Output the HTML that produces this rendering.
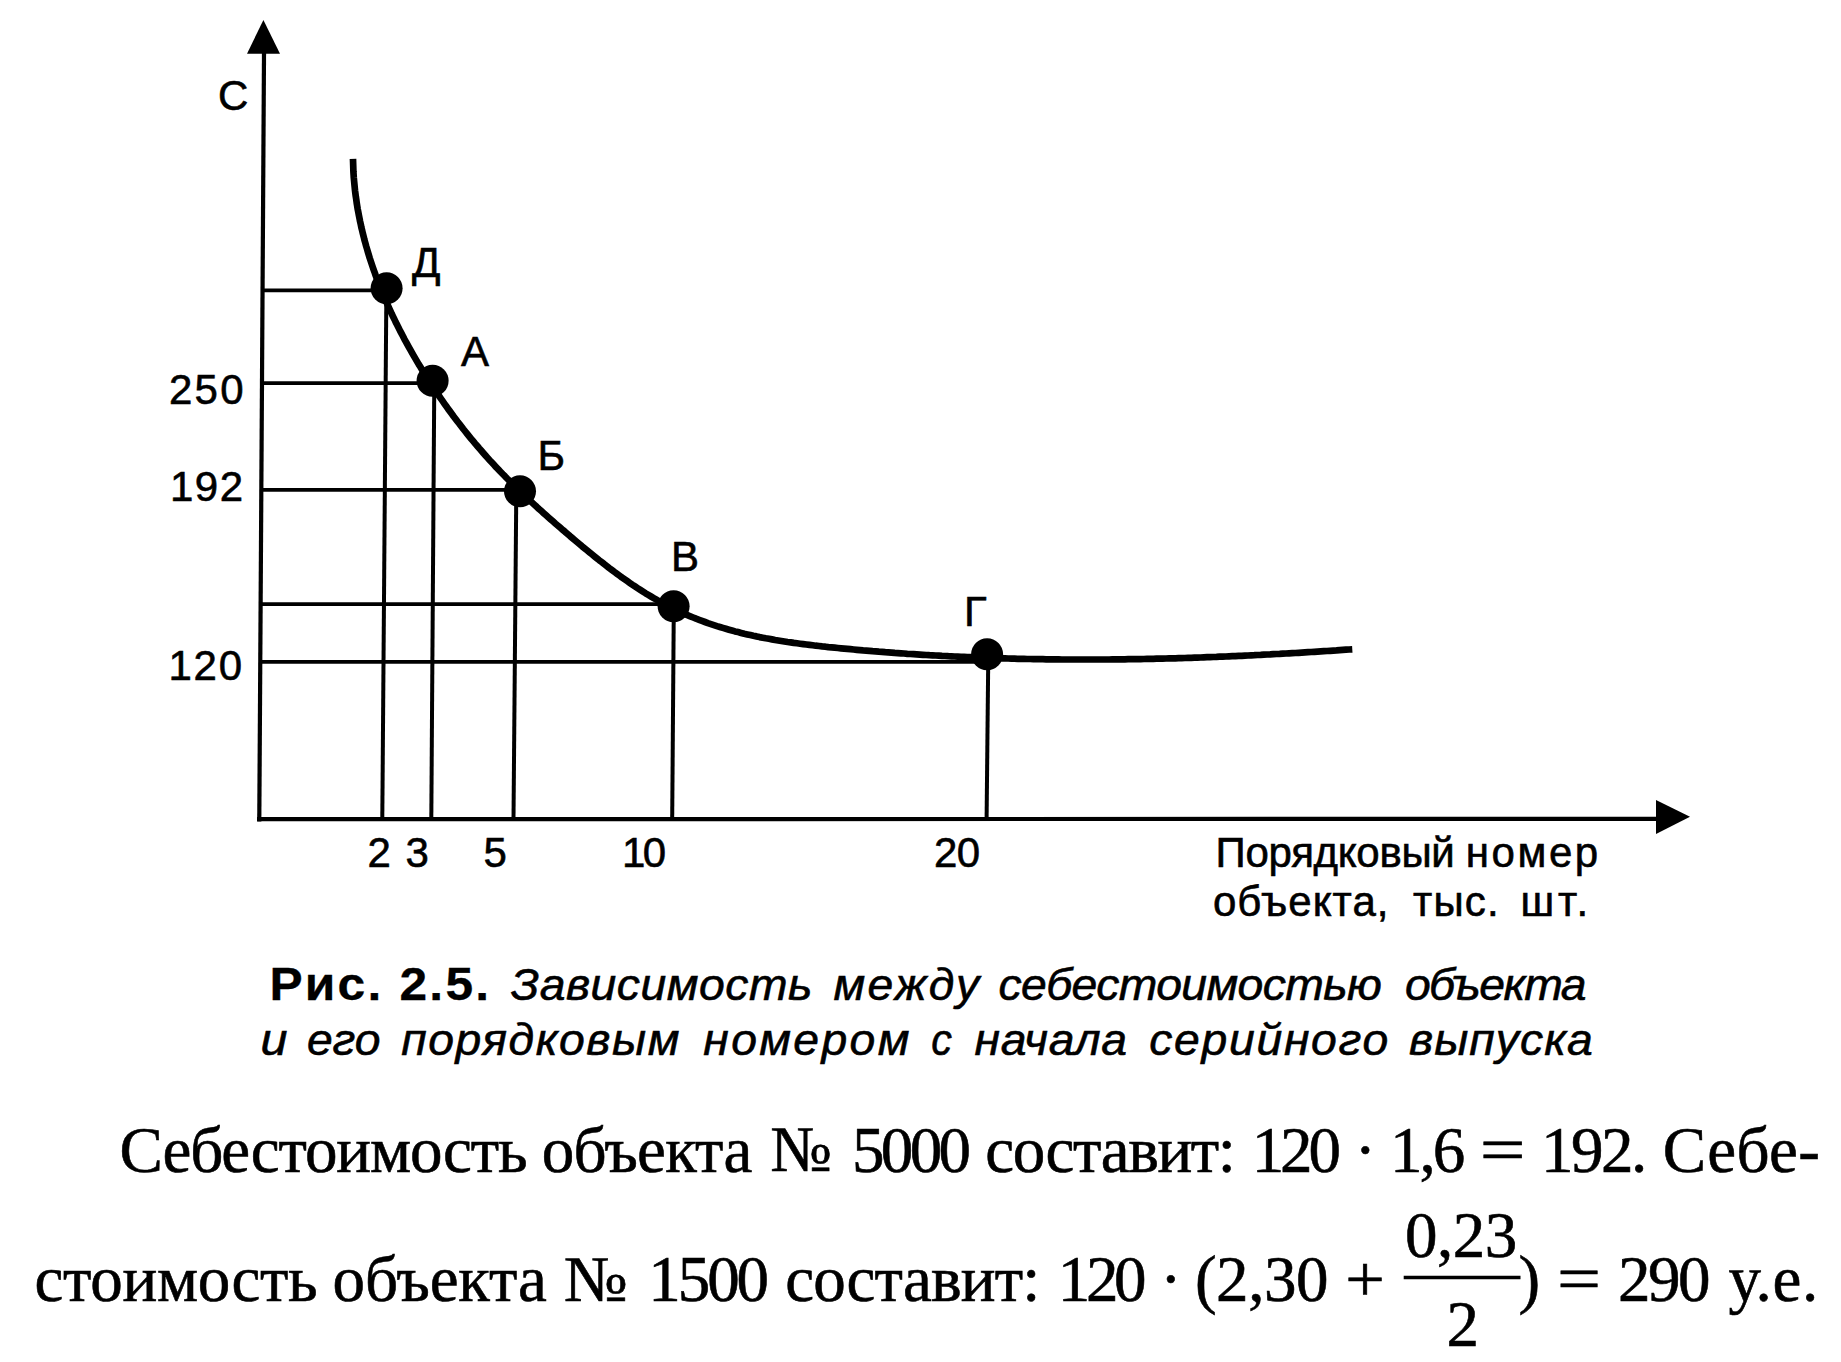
<!DOCTYPE html>
<html><head><meta charset="utf-8">
<style>
html,body{margin:0;padding:0;background:#fff;}
body{width:1841px;height:1362px;overflow:hidden;position:relative;}
svg{position:absolute;left:0;top:0;}
.s{font-family:"Liberation Sans",sans-serif;fill:#000;}
.r{font-family:"Liberation Serif",serif;fill:#000;}
</style></head>
<body>
<svg width="1841" height="1362" viewBox="0 0 1841 1362">
<rect x="0" y="0" width="1841" height="1362" fill="#fff"/>
<g stroke="#000" fill="none" stroke-linecap="butt">
<line x1="264.06" y1="45" x2="259.28" y2="821.5" stroke-width="4.2"/>
<line x1="257" y1="819.1" x2="1660" y2="818.9" stroke-width="4.2"/>
<line x1="262.55" y1="290.4" x2="386" y2="290.4" stroke-width="3.8"/>
<line x1="261.98" y1="383.2" x2="432" y2="383.2" stroke-width="3.8"/>
<line x1="261.32" y1="489.9" x2="519" y2="489.9" stroke-width="3.8"/>
<line x1="260.62" y1="604.2" x2="673" y2="604.2" stroke-width="3.8"/>
<line x1="260.26" y1="661.8" x2="986" y2="661.8" stroke-width="3.8"/>
<line x1="386.4" y1="288" x2="382.3" y2="819" stroke-width="4"/>
<line x1="434.3" y1="381" x2="431.3" y2="819" stroke-width="4"/>
<line x1="516.3" y1="491" x2="513.5" y2="819" stroke-width="4"/>
<line x1="673.8" y1="606" x2="672.2" y2="819" stroke-width="4"/>
<line x1="988.3" y1="654" x2="986.6" y2="819" stroke-width="4"/>
<path d="M353.0,158.8 L353.1,162.0 L353.2,165.1 L353.3,168.3 L353.4,171.5 L353.6,174.6 L353.8,177.8 L354.1,181.0 L354.4,184.1 L354.7,187.2 L355.0,190.4 L355.4,193.5 L355.8,196.6 L356.3,199.8 L356.7,202.9 L357.2,206.0 L357.7,209.1 L358.3,212.2 L358.9,215.3 L359.5,218.4 L360.1,221.5 L360.8,224.5 L361.4,227.6 L362.2,230.7 L362.9,233.7 L363.7,236.8 L364.4,239.8 L365.3,242.9 L366.1,245.9 L367.0,248.9 L367.9,252.0 L368.8,255.0 L369.7,258.0 L370.7,261.0 L371.7,264.0 L372.7,267.0 L373.7,269.9 L374.8,272.9 L375.8,275.9 L376.9,278.9 L378.1,281.8 L379.2,284.8 L380.4,287.7 L381.5,290.6 L382.7,293.5 L384.0,296.5 L385.2,299.4 L386.5,302.3 L387.8,305.2 L389.1,308.1 L390.4,310.9 L391.7,313.8 L393.1,316.7 L394.5,319.5 L395.8,322.4 L397.3,325.2 L398.7,328.0 L400.1,330.9 L401.6,333.7 L403.1,336.5 L404.5,339.3 L406.1,342.1 L407.6,344.9 L409.1,347.6 L410.7,350.4 L412.2,353.1 L413.8,355.9 L415.4,358.6 L417.0,361.4 L418.6,364.1 L420.3,366.8 L421.9,369.5 L423.6,372.2 L425.2,374.9 L426.9,377.5 L428.6,380.2 L430.3,382.9 L432.1,385.5 L433.8,388.1 L435.5,390.8 L437.3,393.4 L439.1,396.0 L440.9,398.6 L442.7,401.2 L444.5,403.8 L446.3,406.3 L448.1,408.9 L450.0,411.4 L451.9,414.0 L453.7,416.5 L455.6,419.0 L457.5,421.5 L459.5,424.0 L461.4,426.5 L463.3,429.0 L465.3,431.5 L467.2,433.9 L469.2,436.4 L471.2,438.8 L473.2,441.2 L475.2,443.6 L477.3,446.0 L479.3,448.4 L481.4,450.8 L483.5,453.2 L485.5,455.5 L487.6,457.9 L489.7,460.2 L491.9,462.5 L494.0,464.8 L496.1,467.2 L498.3,469.4 L500.5,471.7 L502.7,474.0 L504.9,476.2 L507.1,478.5 L509.3,480.7 L511.5,483.0 L513.8,485.2 L516.0,487.4 L518.3,489.6 L520.5,491.8 L522.8,493.9 L525.1,496.1 L527.4,498.3 L529.7,500.4 L532.0,502.6 L534.4,504.7 L536.7,506.8 L539.0,509.0 L541.4,511.1 L543.7,513.2 L546.1,515.3 L548.5,517.4 L550.8,519.5 L553.2,521.6 L555.6,523.7 L558.0,525.7 L560.4,527.8 L562.8,529.9 L565.2,531.9 L567.6,534.0 L570.0,536.1 L572.4,538.1 L574.9,540.2 L577.3,542.2 L579.7,544.2 L582.1,546.3 L584.6,548.3 L587.0,550.3 L589.5,552.3 L591.9,554.3 L594.4,556.3 L596.9,558.3 L599.3,560.3 L601.8,562.2 L604.3,564.2 L606.8,566.1 L609.3,568.1 L611.9,570.0 L614.4,571.9 L616.9,573.7 L619.5,575.6 L622.0,577.5 L624.6,579.3 L627.2,581.1 L629.8,582.9 L632.4,584.7 L635.0,586.4 L637.7,588.2 L640.3,589.9 L643.0,591.6 L645.6,593.3 L648.3,594.9 L651.0,596.5 L653.7,598.1 L656.5,599.7 L659.2,601.3 L662.0,602.8 L664.7,604.3 L667.5,605.7 L670.3,607.2 L673.1,608.6 L675.9,609.9 L678.8,611.3 L681.6,612.6 L684.5,613.9 L687.4,615.1 L690.3,616.3 L693.2,617.5 L696.1,618.7 L699.1,619.8 L702.0,620.9 L705.0,622.0 L707.9,623.1 L710.9,624.1 L713.9,625.1 L716.9,626.1 L719.9,627.0 L722.9,627.9 L725.9,628.8 L729.0,629.7 L732.0,630.5 L735.0,631.4 L738.1,632.1 L741.1,632.9 L744.2,633.7 L747.3,634.4 L750.3,635.1 L753.4,635.8 L756.5,636.4 L759.6,637.1 L762.7,637.7 L765.8,638.3 L768.9,638.8 L772.0,639.4 L775.1,640.0 L778.2,640.5 L781.3,641.0 L784.4,641.5 L787.6,642.0 L790.7,642.4 L793.8,642.9 L797.0,643.3 L800.1,643.7 L803.2,644.1 L806.4,644.5 L809.5,644.9 L812.7,645.3 L815.8,645.7 L819.0,646.0 L822.1,646.4 L825.3,646.7 L828.4,647.1 L831.6,647.4 L834.7,647.7 L837.9,648.0 L841.0,648.3 L844.2,648.6 L847.3,648.9 L850.5,649.2 L853.6,649.5 L856.8,649.8 L860.0,650.1 L863.1,650.4 L866.3,650.6 L869.4,650.9 L872.6,651.2 L875.7,651.4 L878.9,651.7 L882.0,651.9 L885.2,652.2 L888.3,652.4 L891.5,652.6 L894.7,652.9 L897.8,653.1 L901.0,653.3 L904.1,653.5 L907.3,653.8 L910.4,654.0 L913.6,654.2 L916.7,654.4 L919.9,654.6 L923.0,654.8 L926.2,655.0 L929.4,655.2 L932.5,655.3 L935.7,655.5 L938.8,655.7 L942.0,655.9 L945.1,656.0 L948.3,656.2 L951.4,656.3 L954.6,656.5 L957.7,656.6 L960.9,656.8 L964.0,656.9 L967.2,657.1 L970.4,657.2 L973.5,657.3 L976.7,657.5 L979.8,657.6 L983.0,657.7 L986.1,657.8 L989.3,657.9 L992.4,658.0 L995.6,658.1 L998.7,658.2 L1001.9,658.3 L1005.0,658.4 L1008.2,658.5 L1011.4,658.6 L1014.5,658.7 L1017.7,658.8 L1020.8,658.8 L1024.0,658.9 L1027.1,659.0 L1030.3,659.0 L1033.4,659.1 L1036.6,659.1 L1039.7,659.2 L1042.9,659.2 L1046.1,659.3 L1049.2,659.3 L1052.4,659.4 L1055.5,659.4 L1058.7,659.4 L1061.8,659.5 L1065.0,659.5 L1068.1,659.5 L1071.3,659.5 L1074.4,659.5 L1077.6,659.5 L1080.8,659.5 L1083.9,659.5 L1087.1,659.5 L1090.2,659.5 L1093.4,659.5 L1096.5,659.5 L1099.7,659.5 L1102.8,659.5 L1106.0,659.5 L1109.2,659.5 L1112.3,659.4 L1115.5,659.4 L1118.6,659.4 L1121.8,659.3 L1124.9,659.3 L1128.1,659.2 L1131.2,659.2 L1134.4,659.2 L1137.6,659.1 L1140.7,659.1 L1143.9,659.0 L1147.0,658.9 L1150.2,658.9 L1153.3,658.8 L1156.5,658.7 L1159.6,658.7 L1162.8,658.6 L1166.0,658.5 L1169.1,658.4 L1172.3,658.3 L1175.4,658.3 L1178.6,658.2 L1181.7,658.1 L1184.9,658.0 L1188.0,657.9 L1191.2,657.8 L1194.4,657.7 L1197.5,657.6 L1200.7,657.5 L1203.8,657.3 L1207.0,657.2 L1210.1,657.1 L1213.3,657.0 L1216.5,656.9 L1219.6,656.7 L1222.8,656.6 L1225.9,656.5 L1229.1,656.3 L1232.2,656.2 L1235.4,656.1 L1238.6,655.9 L1241.7,655.8 L1244.9,655.6 L1248.0,655.5 L1251.2,655.3 L1254.3,655.2 L1257.5,655.0 L1260.7,654.9 L1263.8,654.7 L1267.0,654.5 L1270.1,654.4 L1273.3,654.2 L1276.4,654.0 L1279.6,653.9 L1282.8,653.7 L1285.9,653.5 L1289.1,653.3 L1292.2,653.1 L1295.4,653.0 L1298.6,652.8 L1301.7,652.6 L1304.9,652.4 L1308.0,652.2 L1311.2,652.0 L1314.3,651.8 L1317.5,651.6 L1320.7,651.4 L1323.8,651.2 L1327.0,651.0 L1330.1,650.8 L1333.3,650.6 L1336.5,650.4 L1339.6,650.1 L1342.8,649.9 L1345.9,649.7 L1349.1,649.5 L1352.3,649.3" stroke-width="6.7" stroke-linejoin="round"/>
</g>
<g fill="#000">
<polygon points="263.4,20 247,53.7 280,53.7"/>
<polygon points="1690,816.8 1656,800 1656,834"/>
<circle cx="386.6" cy="288.2" r="16"/>
<circle cx="432.6" cy="380.7" r="16"/>
<circle cx="520" cy="491.2" r="16"/>
<circle cx="673.6" cy="606.3" r="16"/>
<circle cx="987.1" cy="654.3" r="16"/>
</g>
<line x1="1403.7" y1="1277.5" x2="1520.5" y2="1277.5" stroke="#000" stroke-width="3.7"/>
<text id="tC" x="218.00" y="110.00" class="s" font-size="42" stroke="#000" stroke-width="0.6" xml:space="preserve">С</text>
<text id="tD" x="412.00" y="277.30" class="s" font-size="42" stroke="#000" stroke-width="0.6" xml:space="preserve">Д</text>
<text id="tA" x="461.00" y="365.90" class="s" font-size="42" stroke="#000" stroke-width="0.6" xml:space="preserve">А</text>
<text id="tB" x="537.50" y="469.80" class="s" font-size="42" stroke="#000" stroke-width="0.6" xml:space="preserve">Б</text>
<text id="tV" x="671.00" y="570.70" class="s" font-size="42" stroke="#000" stroke-width="0.6" xml:space="preserve">В</text>
<text id="tG" x="964.00" y="625.70" class="s" font-size="42" stroke="#000" stroke-width="0.6" xml:space="preserve">Г</text>
<text id="t250" x="169.00" y="404.00" textLength="74.58" lengthAdjust="spacing" class="s" font-size="42" stroke="#000" stroke-width="0.6" xml:space="preserve">250</text>
<text id="t192" x="170.00" y="501.00" textLength="73.08" lengthAdjust="spacing" class="s" font-size="42" stroke="#000" stroke-width="0.6" xml:space="preserve">192</text>
<text id="t120" x="168.50" y="679.90" textLength="73.58" lengthAdjust="spacing" class="s" font-size="42" stroke="#000" stroke-width="0.6" xml:space="preserve">120</text>
<text id="x2" x="367.50" y="867.20" class="s" font-size="42" stroke="#000" stroke-width="0.6" xml:space="preserve">2</text>
<text id="x3" x="405.50" y="867.20" class="s" font-size="42" stroke="#000" stroke-width="0.6" xml:space="preserve">3</text>
<text id="x5" x="483.50" y="867.20" class="s" font-size="42" stroke="#000" stroke-width="0.6" xml:space="preserve">5</text>
<text id="x10" x="622.00" y="866.90" textLength="44.22" lengthAdjust="spacing" class="s" font-size="42" stroke="#000" stroke-width="0.6" xml:space="preserve">10</text>
<text id="x20" x="934.00" y="867.40" textLength="46.22" lengthAdjust="spacing" class="s" font-size="42" stroke="#000" stroke-width="0.6" xml:space="preserve">20</text>
<text id="c1b" x="269.50" y="1000.50" textLength="203.28" lengthAdjust="spacing" class="s" font-size="46" font-weight="bold" stroke="#000" stroke-width="0.3" transform="translate(269.50 0) scale(1.08 1) translate(-269.50 0)" xml:space="preserve">Рис. 2.5.</text>
<text id="fn" x="1405.00" y="1257.20" textLength="112.25" lengthAdjust="spacing" class="r" font-size="65" stroke="#000" stroke-width="0.6" xml:space="preserve">0,23</text>
<text id="fd" x="1446.50" y="1346.20" class="r" font-size="65" stroke="#000" stroke-width="0.6" xml:space="preserve">2</text>
<text id="w0" x="119.40" y="1171.50" textLength="408.33" lengthAdjust="spacing" class="r" font-size="65" stroke="#000" stroke-width="0.6" xml:space="preserve">Себестоимость</text>
<text id="w1" x="541.80" y="1171.50" textLength="210.59" lengthAdjust="spacing" class="r" font-size="65" stroke="#000" stroke-width="0.6" xml:space="preserve">объекта</text>
<text id="w2" x="770.30" y="1171.50" class="r" font-size="65" stroke="#000" stroke-width="0.6" transform="translate(770.30 0) scale(0.9940904337874152 1) translate(-770.30 0)" xml:space="preserve">№</text>
<text id="w3" x="852.00" y="1171.50" textLength="119.00" lengthAdjust="spacing" class="r" font-size="65" stroke="#000" stroke-width="0.6" xml:space="preserve">5000</text>
<text id="w4" x="985.30" y="1171.50" textLength="250.61" lengthAdjust="spacing" class="r" font-size="65" stroke="#000" stroke-width="0.6" xml:space="preserve">составит:</text>
<text id="w5" x="1251.80" y="1171.50" textLength="89.10" lengthAdjust="spacing" class="r" font-size="65" stroke="#000" stroke-width="0.6" xml:space="preserve">120</text>
<text id="w6" x="1354.60" y="1171.50" class="r" font-size="65" stroke="#000" stroke-width="0.6" xml:space="preserve">·</text>
<text id="w7" x="1389.90" y="1171.50" textLength="75.25" lengthAdjust="spacing" class="r" font-size="65" stroke="#000" stroke-width="0.6" xml:space="preserve">1,6</text>
<text id="w8" x="1479.80" y="1171.50" class="r" font-size="65" stroke="#000" stroke-width="0.6" transform="translate(1479.80 0) scale(1.2496119633124043 1) translate(-1479.80 0)" xml:space="preserve">=</text>
<text id="w9" x="1541.00" y="1171.50" textLength="106.15" lengthAdjust="spacing" class="r" font-size="65" stroke="#000" stroke-width="0.6" xml:space="preserve">192.</text>
<text id="w10" x="1662.70" y="1171.50" textLength="157.12" lengthAdjust="spacing" class="r" font-size="65" stroke="#000" stroke-width="0.6" xml:space="preserve">Себе-</text>
<text id="v0" x="34.50" y="1301.00" textLength="283.24" lengthAdjust="spacing" class="r" font-size="65" stroke="#000" stroke-width="0.6" xml:space="preserve">стоимость</text>
<text id="v1" x="332.60" y="1301.00" textLength="214.19" lengthAdjust="spacing" class="r" font-size="65" stroke="#000" stroke-width="0.6" xml:space="preserve">объекта</text>
<text id="v2" x="563.70" y="1301.00" class="r" font-size="65" stroke="#000" stroke-width="0.6" transform="translate(563.70 0) scale(1.0319300536384042 1) translate(-563.70 0)" xml:space="preserve">№</text>
<text id="v3" x="648.30" y="1301.00" textLength="120.80" lengthAdjust="spacing" class="r" font-size="65" stroke="#000" stroke-width="0.6" xml:space="preserve">1500</text>
<text id="v4" x="785.30" y="1301.00" textLength="255.01" lengthAdjust="spacing" class="r" font-size="65" stroke="#000" stroke-width="0.6" xml:space="preserve">составит:</text>
<text id="v5" x="1057.80" y="1301.00" textLength="88.70" lengthAdjust="spacing" class="r" font-size="65" stroke="#000" stroke-width="0.6" xml:space="preserve">120</text>
<text id="v6" x="1160.00" y="1301.00" class="r" font-size="65" stroke="#000" stroke-width="0.6" xml:space="preserve">·</text>
<text id="v7" x="1194.90" y="1301.00" textLength="133.61" lengthAdjust="spacing" class="r" font-size="65" stroke="#000" stroke-width="0.6" xml:space="preserve">(2,30</text>
<text id="v8" x="1345.30" y="1301.00" class="r" font-size="65" stroke="#000" stroke-width="0.6" transform="translate(1345.30 0) scale(1.0799495224430657 1) translate(-1345.30 0)" xml:space="preserve">+</text>
<text id="v9" x="1518.60" y="1301.00" class="r" font-size="65" stroke="#000" stroke-width="0.6" xml:space="preserve">)</text>
<text id="v10" x="1557.00" y="1301.00" class="r" font-size="65" stroke="#000" stroke-width="0.6" transform="translate(1557.00 0) scale(1.2022914647375418 1) translate(-1557.00 0)" xml:space="preserve">=</text>
<text id="v11" x="1618.00" y="1301.00" textLength="92.50" lengthAdjust="spacing" class="r" font-size="65" stroke="#000" stroke-width="0.6" xml:space="preserve">290</text>
<text id="v12" x="1728.60" y="1301.00" textLength="89.74" lengthAdjust="spacing" class="r" font-size="65" stroke="#000" stroke-width="0.6" xml:space="preserve">у.е.</text>
<text id="l1a" x="1215.60" y="867.00" textLength="239.16" lengthAdjust="spacing" class="s" font-size="42" stroke="#000" stroke-width="0.6" xml:space="preserve">Порядковый</text>
<text id="l1b" x="1465.80" y="867.00" textLength="132.36" lengthAdjust="spacing" class="s" font-size="42" stroke="#000" stroke-width="0.6" xml:space="preserve">номер</text>
<text id="l2a" x="1212.90" y="916.00" textLength="175.58" lengthAdjust="spacing" class="s" font-size="42" stroke="#000" stroke-width="0.6" xml:space="preserve">объекта,</text>
<text id="l2b" x="1413.10" y="916.00" textLength="85.49" lengthAdjust="spacing" class="s" font-size="42" stroke="#000" stroke-width="0.6" xml:space="preserve">тыс.</text>
<text id="l2c" x="1520.40" y="916.00" textLength="67.85" lengthAdjust="spacing" class="s" font-size="42" stroke="#000" stroke-width="0.6" xml:space="preserve">шт.</text>
<text id="ci0" x="510.70" y="1000.50" textLength="290.07" lengthAdjust="spacing" class="s" font-size="44.5" font-style="italic" stroke="#000" stroke-width="0.6" transform="translate(510.70 0) scale(1.04 1) translate(-510.70 0)" xml:space="preserve">Зависимость</text>
<text id="ci1" x="833.50" y="1000.50" textLength="140.05" lengthAdjust="spacing" class="s" font-size="44.5" font-style="italic" stroke="#000" stroke-width="0.6" transform="translate(833.50 0) scale(1.04 1) translate(-833.50 0)" xml:space="preserve">между</text>
<text id="ci2" x="998.50" y="1000.50" textLength="368.45" lengthAdjust="spacing" class="s" font-size="44.5" font-style="italic" stroke="#000" stroke-width="0.6" transform="translate(998.50 0) scale(1.04 1) translate(-998.50 0)" xml:space="preserve">себестоимостью</text>
<text id="ci3" x="1404.90" y="1000.50" textLength="174.64" lengthAdjust="spacing" class="s" font-size="44.5" font-style="italic" stroke="#000" stroke-width="0.6" transform="translate(1404.90 0) scale(1.04 1) translate(-1404.90 0)" xml:space="preserve">объекта</text>
<text id="cj0" x="260.50" y="1055.00" class="s" font-size="44.5" font-style="italic" stroke="#000" stroke-width="0.6" transform="translate(260.50 0) scale(1.0894672960661385 1) translate(-260.50 0)" xml:space="preserve">и</text>
<text id="cj1" x="307.00" y="1055.00" textLength="70.71" lengthAdjust="spacing" class="s" font-size="44.5" font-style="italic" stroke="#000" stroke-width="0.6" transform="translate(307.00 0) scale(1.04 1) translate(-307.00 0)" xml:space="preserve">его</text>
<text id="cj2" x="401.30" y="1055.00" textLength="267.36" lengthAdjust="spacing" class="s" font-size="44.5" font-style="italic" stroke="#000" stroke-width="0.6" transform="translate(401.30 0) scale(1.04 1) translate(-401.30 0)" xml:space="preserve">порядковым</text>
<text id="cj3" x="703.30" y="1055.00" textLength="198.20" lengthAdjust="spacing" class="s" font-size="44.5" font-style="italic" stroke="#000" stroke-width="0.6" transform="translate(703.30 0) scale(1.04 1) translate(-703.30 0)" xml:space="preserve">номером</text>
<text id="cj4" x="931.30" y="1055.00" class="s" font-size="44.5" font-style="italic" stroke="#000" stroke-width="0.6" transform="translate(931.30 0) scale(0.9297734054725604 1) translate(-931.30 0)" xml:space="preserve">с</text>
<text id="cj5" x="974.50" y="1055.00" textLength="146.72" lengthAdjust="spacing" class="s" font-size="44.5" font-style="italic" stroke="#000" stroke-width="0.6" transform="translate(974.50 0) scale(1.04 1) translate(-974.50 0)" xml:space="preserve">начала</text>
<text id="cj6" x="1149.20" y="1055.00" textLength="229.96" lengthAdjust="spacing" class="s" font-size="44.5" font-style="italic" stroke="#000" stroke-width="0.6" transform="translate(1149.20 0) scale(1.04 1) translate(-1149.20 0)" xml:space="preserve">серийного</text>
<text id="cj7" x="1409.10" y="1055.00" textLength="176.63" lengthAdjust="spacing" class="s" font-size="44.5" font-style="italic" stroke="#000" stroke-width="0.6" transform="translate(1409.10 0) scale(1.04 1) translate(-1409.10 0)" xml:space="preserve">выпуска</text>
</svg>
</body></html>
